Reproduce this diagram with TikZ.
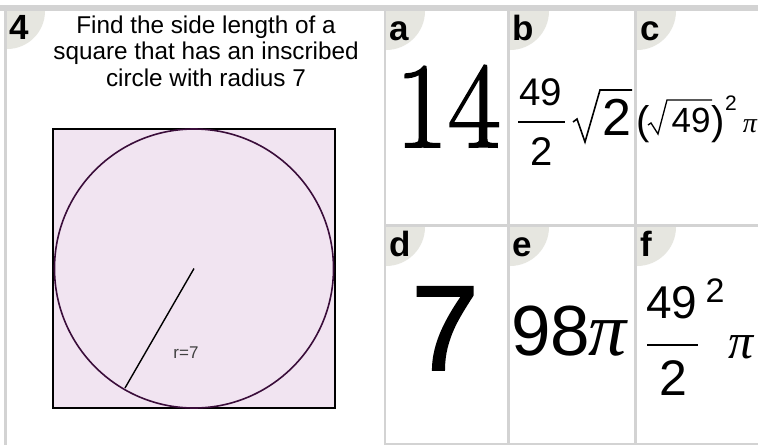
\documentclass[tikz,border=0pt]{standalone}
\usepackage{fontspec}
\setmainfont{Liberation Sans}
\newfontfamily\lmroman[FakeBold=1.6]{Latin Modern Roman}
\newfontfamily\heavysans[FakeBold=1.6]{Liberation Sans}
\newfontfamily\piserif{Liberation Serif}
\definecolor{gridgray}{HTML}{D3D3D3}
\definecolor{badgecol}{HTML}{E6E6E0}
\definecolor{lavender}{HTML}{F1E4F1}
\definecolor{ringcol}{HTML}{3A0D3A}
\definecolor{labelgray}{HTML}{404040}
\tikzset{
  badgeletter/.style={anchor=base west, inner sep=0pt, font=\fontsize{35}{35}\selectfont\bfseries},
  plain/.style={inner sep=0pt, anchor=base},
  fracbar/.style={line width=1.6pt},
  radical/.style={line width=1.6pt, line join=miter},
}
\begin{document}
\begin{tikzpicture}[x=1pt,y=-1pt]
\useasboundingbox (0,0) rectangle (758,445);
\fill[white] (0,0) rectangle (758,445);
% badges (clipped to cells)
\begin{scope}
  \clip (7,11) rectangle (384,445);
  \fill[badgecol] (7,11) circle (38);
\end{scope}
\foreach \cx/\cy/\rx/\ry in {386/11/507/224, 510/11/634/224, 637/11/758/224, 386/227/507/443, 510/227/634/443, 637/227/758/443}{
  \begin{scope}
    \clip (\cx,\cy) rectangle (\rx,\ry);
    \fill[badgecol] (\cx,\cy) circle (39);
  \end{scope}
}
% grid lines
\fill[gridgray] (0,5) rectangle (758,11);
\fill[gridgray] (4,11) rectangle (7,445);
\fill[gridgray] (384,11) rectangle (386,445);
\fill[gridgray] (507,11) rectangle (510,443);
\fill[gridgray] (634,11) rectangle (637,443);
\fill[gridgray] (386,224) rectangle (758,227);
\fill[gridgray] (386,443) rectangle (758,445);
% badge letters
\node[badgeletter] (n4) at (9,39) {4};
\node[badgeletter] (la) at (389,40) {a};
\node[badgeletter] (lb) at (512,40) {b};
\node[badgeletter] (lc) at (640,40) {c};
\node[badgeletter] (ld) at (389,256) {d};
\node[badgeletter] (le) at (512,256) {e};
\node[badgeletter] (lf) at (640,256) {f};
% question
\node[align=center, inner sep=0pt, font=\fontsize{24.3}{26.5}\selectfont] (q) at (206,51)
  {Find the side length of a\\square that has an inscribed\\circle with radius 7};
% square with inscribed circle
\draw[line width=2pt, fill=lavender] (53,129) rectangle (335,408);
\coordinate (c) at (194,268.5);
\coordinate (rend) at (125,388);
\draw[ringcol, line width=1.6pt] (c) circle (139.5);
\draw[line width=1.4pt] (c) -- (rend);
\node[plain, text=labelgray, font=\fontsize{17}{17}\selectfont] (rl) at (186,358) {r=7};
% a: 14
\node[plain, font=\lmroman\fontsize{122}{122}\selectfont, xscale=0.94] (va) at (448,147) {14};
% d: 7
\node[plain, font=\heavysans\fontsize{121}{121}\selectfont] (vd) at (445,370) {7};
% b: 49/2 sqrt2
\node[plain, font=\fontsize{38.5}{38.5}\selectfont] (b49) at (541,105) {49};
\draw[fracbar] (518,122) -- (565,122);
\node[plain, font=\fontsize{40}{40}\selectfont] (b2) at (542,165) {2};
\draw[radical] (573,122) -- (577,119) -- (585,142) -- (600,90) -- (632,90);
\node[plain, font=\fontsize{52}{52}\selectfont] (bs2) at (617,135) {2};
% c: (sqrt49)^2 pi
\node[plain, font=\fontsize{40}{40}\selectfont] (clp) at (643,134) {(};
\draw[radical, line width=1.3pt] (648,125) -- (651,123) -- (658,134) -- (667,100) -- (712,100);
\node[plain, font=\fontsize{35}{35}\selectfont] (c49) at (691,132) {49};
\node[plain, font=\fontsize{40}{40}\selectfont] (crp) at (718,134) {)};
\node[plain, font=\fontsize{21}{21}\selectfont] (csq) at (731,110) {2};
\node[plain, font=\piserif\itshape\fontsize{28}{28}\selectfont] (cpi) at (750,132) {π};
% e: 98pi
\node[plain, font=\fontsize{71}{71}\selectfont] (e98) at (551,355) {98};
\node[plain, font=\piserif\itshape\fontsize{76}{76}\selectfont] (epi) at (608,355) {π};
% f: (49/2)^2 pi
\node[plain, font=\fontsize{46}{46}\selectfont] (f49) at (672,318) {49};
\draw[fracbar] (647,345) -- (698,345);
\node[plain, font=\fontsize{50}{50}\selectfont] (f2) at (673,395) {2};
\node[plain, font=\fontsize{34}{34}\selectfont] (fsq) at (715,302) {2};
\node[plain, font=\piserif\itshape\fontsize{50}{50}\selectfont] (fpi) at (741,358) {π};
\end{tikzpicture}
\end{document}
